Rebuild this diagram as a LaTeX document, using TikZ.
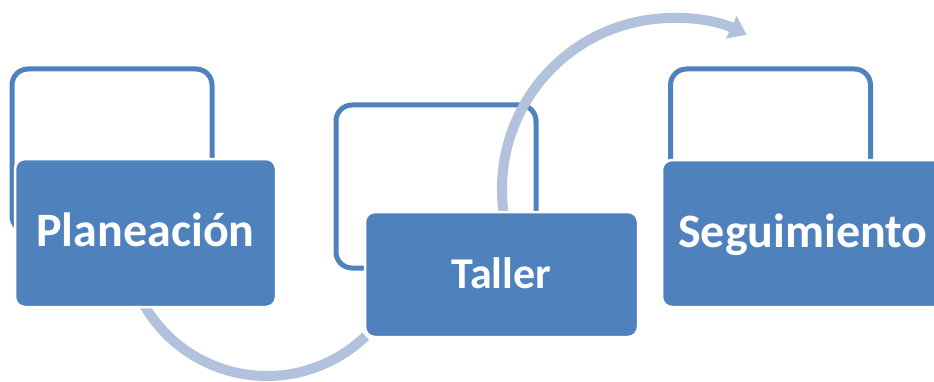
\documentclass[tikz,border=0pt]{standalone}
\usepackage{fontspec}
\setmainfont{Carlito}
\usetikzlibrary{arrows.meta}
\definecolor{accent}{HTML}{4F81BD}
\definecolor{arcblue}{HTML}{B2C1DC}
\begin{document}
\begin{tikzpicture}[x=1pt,y=1pt,
  backbox/.style={draw=accent, line width=5pt, fill=white, rounded corners=16pt,
    minimum width=200pt, minimum height=163pt, inner sep=0pt, outer sep=0pt},
  frontbox/.style={draw=white, line width=2.5pt, fill=accent, rounded corners=10pt,
    inner sep=0pt, outer sep=0pt, text=white, text height=27pt, text depth=0pt},
  bigtext/.style={font=\bfseries\fontsize{48}{48}\selectfont},
  midtext/.style={font=\bfseries\fontsize{44}{44}\selectfont},
  flow/.style={draw=arcblue, line width=10pt}]
\useasboundingbox (0,0) rectangle (934,381);
\clip (0,0) rectangle (934,381);
% back outlined boxes
\node[backbox] (b1) at (112,230.5) {};
\node[backbox] (b2) at (436,194.5) {};
\node[backbox] (b3) at (770.5,230.5) {};
% curved arrows
\coordinate (c1) at (267,147);
\coordinate (c2) at (673,192);
\draw[flow] ([shift={(205:142)}]c1) arc[start angle=205, end angle=314, radius=142];
\draw[flow, -{Triangle[width=24pt,length=17pt]}] ([shift={(190:171)}]c2)
  arc[start angle=190, end angle=64.5, radius=171];
% front filled boxes
\node[frontbox, bigtext, minimum width=261pt, minimum height=148pt] (p) at (145.5,148) {Planeación};
\node[frontbox, midtext, minimum width=273pt, minimum height=125pt] (t) at (501.5,106.5) {Taller};
\node[frontbox, bigtext, minimum width=282pt, minimum height=147pt] (s) at (803,147.5) {Seguimiento};
\end{tikzpicture}
\end{document}
